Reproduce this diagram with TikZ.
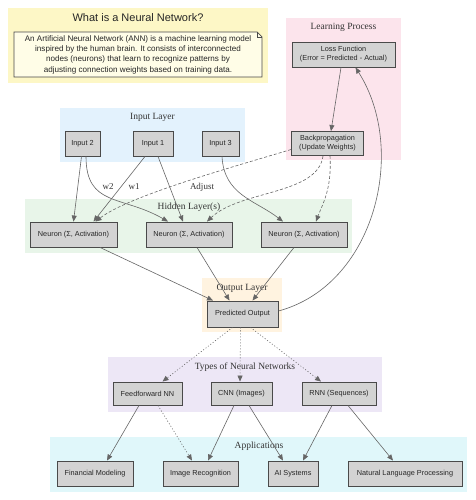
\documentclass[tikz,border=0pt]{standalone}
\usepackage{fontspec}
\setmainfont{Liberation Serif}
\setsansfont{Liberation Sans}
\usetikzlibrary{arrows.meta,calc}
\definecolor{cyellow}{HTML}{FDF7C6}
\definecolor{cpink}{HTML}{FCE4EC}
\definecolor{cblue}{HTML}{E3F2FD}
\definecolor{cgreen}{HTML}{E8F5E9}
\definecolor{corange}{HTML}{FFF3E0}
\definecolor{cpurple}{HTML}{EDE7F6}
\definecolor{ccyan}{HTML}{E0F7FA}
\definecolor{notefill}{HTML}{FFFDE7}
\definecolor{boxfill}{HTML}{D3D3D3}
\definecolor{boxline}{HTML}{4A4A4A}
\definecolor{edgec}{HTML}{666666}
\tikzset{
  box/.style={draw=boxline, line width=0.9pt, fill=boxfill, inner sep=0pt,
    font=\sffamily\fontsize{7.3}{8.8}\selectfont, align=center, text=black!85},
  clab/.style={font=\rmfamily\fontsize{9.5}{11}\selectfont, text=black!80, inner sep=0pt},
  elab/.style={font=\rmfamily\fontsize{9}{10}\selectfont, text=black!80, inner sep=0pt},
  conn/.style={draw=edgec, line width=0.6pt, -{Triangle[width=5pt,length=6pt]}},
  dconn/.style={conn, dash pattern=on 3pt off 2pt},
  oconn/.style={conn, dash pattern=on 1pt off 2pt},
}
\begin{document}
\begin{tikzpicture}[x=1pt,y=-1pt]
\useasboundingbox (0,0) rectangle (475,500);
\fill[white] (0,0) rectangle (475,500);
% clusters
\fill[cyellow] (8,8) rectangle (268,83);
\fill[cpink] (286,18) rectangle (401,160);
\fill[cblue] (60,108) rectangle (245,162);
\fill[cgreen] (25,199) rectangle (352,253);
\fill[corange] (202,278) rectangle (282,332);
\fill[cpurple] (108,357) rectangle (382,412);
\fill[ccyan] (50,437) rectangle (467,492);
% cluster labels
\node[font=\sffamily\fontsize{11}{13}\selectfont, text=black!85, inner sep=0pt] (ttl) at (138,17.5) {What is a Neural Network?};
\node[clab] (llp) at (343.5,27) {Learning Process};
\node[clab] (lin) at (152.5,117) {Input Layer};
\node[clab] (lhid) at (189,207.5) {Hidden Layer(s)};
\node[clab] (lout) at (242,288) {Output Layer};
\node[clab] (ltyp) at (245,367) {Types of Neural Networks};
\node[clab] (lapp) at (259,446) {Applications};
% note
\draw[boxline, line width=0.7pt, fill=notefill] (14,32) -- (257,32) -- (262,37) -- (262,77) -- (14,77) -- cycle;
\draw[boxline, line width=0.5pt] (257,32) -- (257,37) -- (262,37);
\node[font=\sffamily\fontsize{8.1}{10.3}\selectfont, align=center, text=black!85, inner sep=0pt] (note) at (138,54.5)
 {An Artificial Neural Network (ANN) is a machine learning model\\inspired by the human brain. It consists of interconnected\\nodes (neurons) that learn to recognize patterns by\\adjusting connection weights based on training data.};
% nodes
\node[box, minimum width=103pt, minimum height=25pt] (loss) at (343.5,54.5) {Loss Function\\(Error = Predicted - Actual)};
\node[box, minimum width=72pt, minimum height=24pt] (bp) at (327.5,143.5) {Backpropagation\\(Update Weights)};
\node[box, minimum width=35pt, minimum height=25pt] (in2) at (82.5,143.5) {Input 2};
\node[box, minimum width=40pt, minimum height=25pt] (in1) at (153,143.5) {Input 1};
\node[box, minimum width=37pt, minimum height=25pt] (in3) at (220.5,143.5) {Input 3};
\node[box, minimum width=87pt, minimum height=25pt] (n1) at (73.5,234.5) {Neuron (Σ, Activation)};
\node[box, minimum width=86pt, minimum height=25pt] (n2) at (189,234.5) {Neuron (Σ, Activation)};
\node[box, minimum width=86pt, minimum height=25pt] (n3) at (304,234.5) {Neuron (Σ, Activation)};
\node[box, minimum width=71pt, minimum height=26pt] (pred) at (242.5,314) {Predicted Output};
\node[box, minimum width=69pt, minimum height=23pt] (ff) at (147.5,393.5) {Feedforward NN};
\node[box, minimum width=61pt, minimum height=23pt] (cnn) at (241.5,393.5) {CNN (Images)};
\node[box, minimum width=74pt, minimum height=23pt] (rnn) at (339,393.5) {RNN (Sequences)};
\node[box, minimum width=76pt, minimum height=25pt] (fm) at (95,473.5) {Financial Modeling};
\node[box, minimum width=75pt, minimum height=25pt] (ir) at (200.5,473.5) {Image Recognition};
\node[box, minimum width=50pt, minimum height=25pt] (ai) at (293,473.5) {AI Systems};
\node[box, minimum width=114pt, minimum height=25pt] (nlp) at (405,473.5) {Natural Language Processing};
% edge labels
\node[elab] (lw2) at (108,186.5) {w2};
\node[elab] (lw1) at (134,187) {w1};
\node[elab] (ladj) at (202,187) {Adjust};
% connectors
\draw[conn] ($(in2.south)+(-1,0)$) -- ($(n1.north)+(0,0)$);
\draw[conn] ($(in2.south)+(3.5,0)$) .. controls (86,207) and (122,195) .. ($(n2.north)+(-21,0)$);
\draw[conn] ($(in1.south)+(-8,0)$) -- ($(n1.north)+(20,0)$);
\draw[conn] ($(in1.south)+(5,0)$) -- ($(n2.north)+(-6,0)$);
\draw[conn] ($(in3.south)+(1.5,0)$) .. controls (224,195) and (255,200) .. ($(n3.north)+(-21,0)$);
\draw[dconn] ($(bp.west)+(0,6)$) .. controls (240,165) and (130,195) .. ($(n1.north)+(22,0)$);
\draw[dconn] ($(bp.south)+(-4.5,0)$) .. controls (318,195) and (240,190) .. ($(n2.north)+(18,0)$);
\draw[dconn] ($(bp.south)+(2.5,0)$) .. controls (332,190) and (322,205) .. ($(n3.north)+(12,0)$);
\draw[conn] ($(loss.south)+(-2.5,0)$) -- ($(bp.north)+(3.5,0)$);
\draw[conn] ($(n1.south)+(26.5,0)$) -- ($(pred.north)+(-29.5,0)$);
\draw[conn] ($(n2.south)+(8,0)$) -- ($(pred.north)+(-13,0)$);
\draw[conn] ($(n3.south)+(-10,0)$) -- ($(pred.north)+(10,0)$);
\draw[conn] ($(pred.east)+(0,-3)$) .. controls (375,285) and (408,150) .. ($(loss.south)+(12,0)$);
\draw[oconn] ($(pred.south)+(-10,0)$) -- ($(ff.north)+(15,0)$);
\draw[oconn] ($(pred.south)+(-2,0)$) -- ($(cnn.north)+(-1.5,0)$);
\draw[oconn] ($(pred.south)+(8,0)$) -- ($(rnn.north)+(-18,0)$);
\draw[conn] ($(ff.south)+(-8.5,0)$) -- ($(fm.north)+(12,0)$);
\draw[oconn] ($(ff.south)+(10.5,0)$) -- ($(ir.north)+(-8.5,0)$);
\draw[conn] ($(cnn.south)+(-7.5,0)$) -- ($(ir.north)+(7.5,0)$);
\draw[conn] ($(cnn.south)+(7.5,0)$) -- ($(ai.north)+(-10,0)$);
\draw[conn] ($(rnn.south)+(-7,0)$) -- ($(ai.north)+(10,0)$);
\draw[conn] ($(rnn.south)+(9,0)$) -- ($(nlp.north)+(-12,0)$);
\end{tikzpicture}
\end{document}
